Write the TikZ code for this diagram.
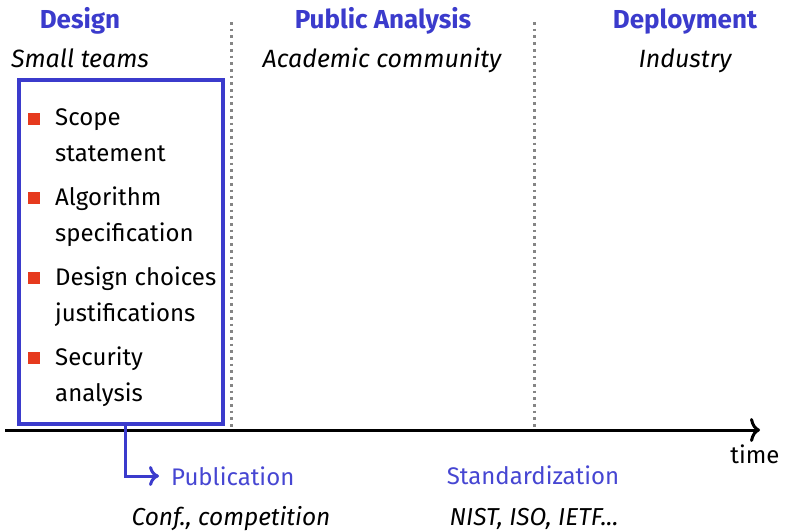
\documentclass[tikz,border=0pt]{standalone}
\usepackage{fontspec}
\setmainfont{Fira Sans}
\usetikzlibrary{arrows.meta}
\definecolor{hblue}{HTML}{3B3BCC}
\definecolor{lblue}{HTML}{4646D2}
\definecolor{bred}{HTML}{E63A1E}
\definecolor{dgray}{HTML}{858585}
\tikzset{
  txt/.style={inner sep=0pt, anchor=base, font=\fontsize{24}{36}\selectfont},
  head/.style={txt, text=hblue, font=\fontsize{26}{36}\selectfont\bfseries},
  sub/.style={txt, font=\fontsize{25}{36}\selectfont\itshape},
  subb/.style={txt, font=\fontsize{24.5}{36}\selectfont\itshape},
  item/.style={inner sep=0pt, anchor=base west, align=left, font=\fontsize{24}{36}\selectfont},
  bul/.style={fill=bred, inner sep=0pt, minimum size=12pt},
  sep/.style={dgray, line width=3pt, dash pattern=on 2.7pt off 4pt},
  frame/.style={draw=hblue, line width=3.5pt, inner sep=0pt},
  tip/.style={-{Computer Modern Rightarrow[length=10pt,width=24pt,line width=3pt]}},
  tips/.style={-{Computer Modern Rightarrow[length=10pt,width=20pt,line width=3pt]}},
  blu/.style={txt, text=lblue},
}
\begin{document}
\begin{tikzpicture}[x=1pt,y=-1pt]
\useasboundingbox (0,0) rectangle (787,531);
% headings
\node[head] (hdes) at (80,28) {Design};
\node[sub] (sdes) at (80,67) {Small teams};
\node[head] (hpub) at (383,28) {Public Analysis};
\node[sub] (spub) at (382,67) {Academic community};
\node[head] (hdep) at (685,28) {Deployment};
\node[sub] (sdep) at (685,67) {Industry};
% separators
\coordinate (s1t) at (231,22); \coordinate (s1b) at (231,430);
\coordinate (s2t) at (534,22); \coordinate (s2b) at (534,430);
\draw[sep] (s1t) -- (s1b);
\draw[sep] (s2t) -- (s2b);
% box
\node[frame, minimum width=204pt, minimum height=344pt] (box) at (121,252) {};
% items (anchor at baseline of the last line)
\node[bul] (b1) at (34,119) {};
\node[item] (i1) at (55,161) {Scope\\statement};
\node[bul] (b2) at (34,198) {};
\node[item] (i2) at (55,241) {Algorithm\\specification};
\node[bul] (b3) at (34,278) {};
\node[item] (i3) at (55,321) {Design choices\\justifications};
\node[bul] (b4) at (34,358) {};
\node[item] (i4) at (55,401) {Security\\analysis};
% axis
\coordinate (axL) at (5,430);
\coordinate (axR) at (760,430);
\draw[line width=3pt, tip] (axL) -- (axR);
\node[txt] (time) at (755,463) {time};
% bottom labels
\node[blu, anchor=west] (pub) at (171,476) {Publication};
\node[blu] (std) at (533,484) {Standardization};
\node[subb] (cpub) at (231,525) {Conf., competition};
\node[subb] (cstd) at (534,525) {NIST, ISO, IETF...};
% connector
\coordinate (c0) at ([xshift=4pt]box.south);
\draw[draw=hblue, line width=3pt, tips, shorten >=12pt] (c0) |- (pub.west);
\end{tikzpicture}
\end{document}
